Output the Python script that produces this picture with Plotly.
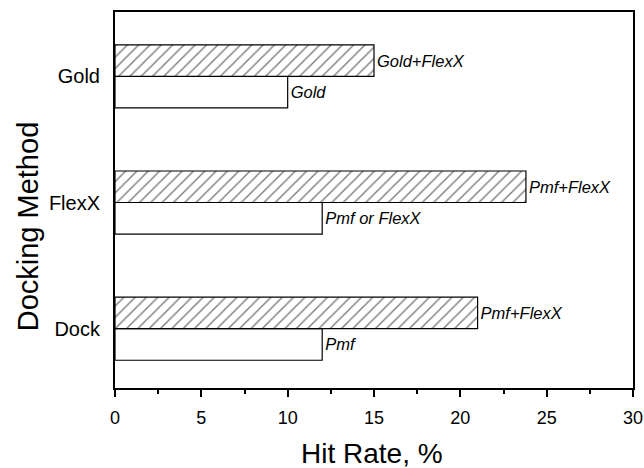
import plotly.graph_objects as go

categories = ["Dock", "FlexX", "Gold"]
combined_values = [21, 23.8, 15]
combined_labels = ["Pmf+FlexX", "Pmf+FlexX", "Gold+FlexX"]
single_values = [12, 12, 10]
single_labels = ["Pmf", "Pmf or FlexX", "Gold"]

label_font = dict(family="Liberation Sans", size=16.5, color="black", style="italic")

fig = go.Figure()
fig.add_trace(go.Bar(
    y=categories, x=single_values, orientation="h",
    text=single_labels, textposition="outside", textfont=label_font,
    constraintext="none", cliponaxis=False,
    width=0.25, offset=-0.25,
    marker=dict(color="white", line=dict(color="black", width=1.2)),
    showlegend=False,
))
fig.add_trace(go.Bar(
    y=categories, x=combined_values, orientation="h",
    text=combined_labels, textposition="outside", textfont=label_font,
    constraintext="none", cliponaxis=False,
    width=0.25, offset=0,
    marker=dict(color="white", line=dict(color="black", width=1.2),
                pattern=dict(shape="/", fgcolor="black", bgcolor="white", size=8, solidity=0.18)),
    showlegend=False,
))

fig.update_layout(
    width=644, height=468,
    margin=dict(l=115, r=11, t=12, b=80, autoexpand=False),
    paper_bgcolor="white", plot_bgcolor="white",
    barmode="overlay",
    font=dict(family="Liberation Sans", color="black"),
    annotations=[
        dict(text="Docking Method", textangle=-90, showarrow=False,
             xref="paper", yref="paper", x=-0.168, y=0.43,
             xanchor="center", yanchor="middle",
             font=dict(size=29, color="black")),
        dict(text="Hit Rate, %", showarrow=False,
             xref="paper", yref="paper", x=0.497, y=-0.173,
             xanchor="center", yanchor="middle",
             font=dict(size=28, color="black")),
    ],
)
fig.update_xaxes(
    range=[0, 30], tickvals=[0, 5, 10, 15, 20, 25, 30],
    ticks="outside", ticklen=7, tickwidth=1.5, tickcolor="black",
    minor=dict(tickvals=[2.5, 7.5, 12.5, 17.5, 22.5, 27.5], ticks="outside", ticklen=4, tickwidth=1.5, tickcolor="black"),
    showline=True, linecolor="black", linewidth=2, mirror=True,
    showgrid=False, zeroline=False, automargin=False,
    tickfont=dict(size=18), ticklabelstandoff=5,
)
fig.update_yaxes(
    range=[-0.47, 2.51],
    categoryorder="array", categoryarray=categories,
    ticks="", ticklabelstandoff=9,
    showline=True, linecolor="black", linewidth=2, mirror=True,
    showgrid=False, zeroline=False, automargin=False,
    tickfont=dict(size=20),
)

fig.write_html("out.html")
